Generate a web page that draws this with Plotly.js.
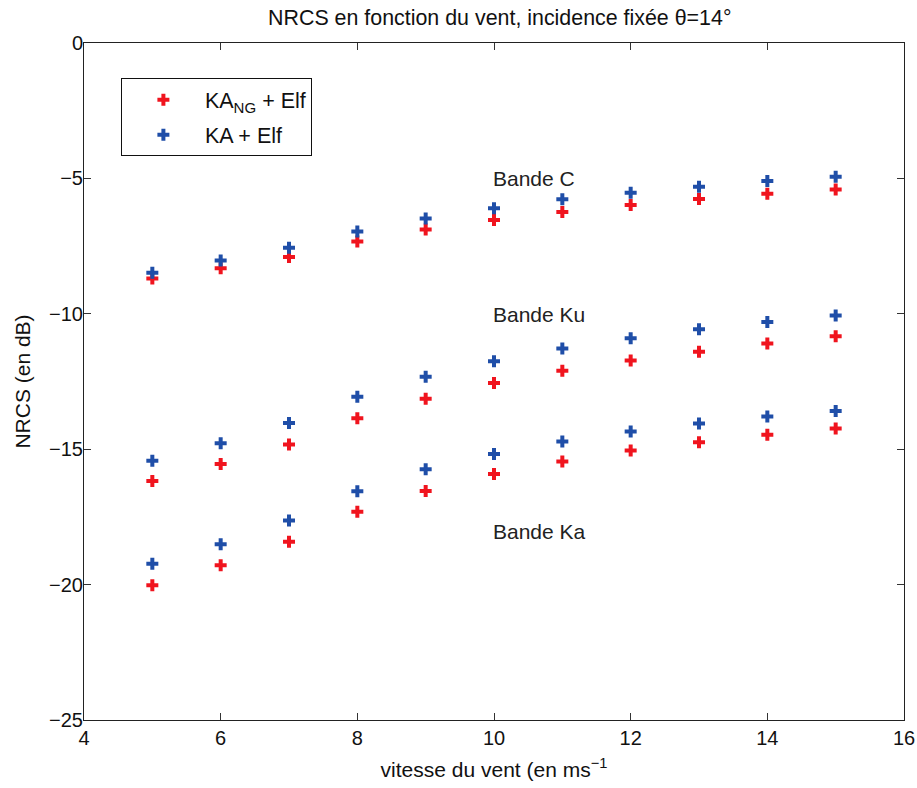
<!DOCTYPE html>
<html><head><meta charset="utf-8">
<script src="https://cdn.plot.ly/plotly-3.0.1.min.js"></script>
<style>body{margin:0;background:#fff}</style>
</head><body>
<div id="chart" style="width:917px;height:788px"></div>
<script>
var wind = [5,6,7,8,9,10,11,12,13,14,15];
// Bande C
var cNG = [-8.70,-8.32,-7.90,-7.33,-6.89,-6.54,-6.24,-5.98,-5.76,-5.57,-5.41];
var cKA = [-8.48,-8.03,-7.56,-6.96,-6.48,-6.10,-5.77,-5.53,-5.31,-5.10,-4.94];
// Bande Ku
var kuNG = [-16.17,-15.55,-14.83,-13.86,-13.14,-12.56,-12.10,-11.72,-11.40,-11.10,-10.83];
var kuKA = [-15.43,-14.78,-14.03,-13.06,-12.32,-11.75,-11.28,-10.90,-10.57,-10.30,-10.06];
// Bande Ka
var kaNG = [-20.02,-19.29,-18.42,-17.31,-16.54,-15.92,-15.45,-15.05,-14.74,-14.47,-14.24];
var kaKA = [-19.23,-18.51,-17.63,-16.55,-15.74,-15.18,-14.72,-14.35,-14.05,-13.79,-13.59];
var bandLabels = ["Bande C","Bande Ku","Bande Ka"];
var bandLabelX = [9.95,9.95,9.95];
var bandLabelY = [-5.0,-10.02,-18.03];
var xTicks = [4,6,8,10,12,14,16];
var yTicks = [-25,-20,-15,-10,-5,0];

var FF = "Liberation Sans, Arial, sans-serif";
var red = "#f0141e", blue = "#1f4ea8";
function mk(c){return {symbol:"cross",size:10,color:c,line:{width:0}};}
var allX = wind.concat(wind, wind);
var traces = [
  {x:allX, y:cNG.concat(kuNG, kaNG), mode:"markers", type:"scatter", name:"KA<sub>NG</sub> + Elf", legendgroup:"a", marker:mk(red)},
  {x:allX, y:cKA.concat(kuKA, kaKA), mode:"markers", type:"scatter", name:"KA + Elf", legendgroup:"b", marker:mk(blue)}
];
var ann = bandLabels.map(function(t,i){
  return {x:bandLabelX[i], y:bandLabelY[i], xref:"x", yref:"y", text:t, showarrow:false, xanchor:"left",
    font:{family:FF, size:21, color:"#222"}};
});
var axBase = {showgrid:false, zeroline:false, ticks:"inside", ticklen:7, tickcolor:"#333",
  showline:true, linecolor:"#222", linewidth:1, mirror:"ticks",
  tickfont:{family:FF, size:20, color:"#111"}};
var layout = {
  width:917, height:788,
  margin:{l:84, r:13, t:43, b:68},
  paper_bgcolor:"#fff", plot_bgcolor:"#fff",
  font:{family:FF, color:"#111"},
  title:{text:"NRCS en fonction du vent, incidence fixée θ=14°", xref:"container", x:0.545, xanchor:"center", yref:"container", y:0.978, yanchor:"middle",
    font:{family:FF, size:21.4, color:"#111"}},
  xaxis:Object.assign({}, axBase, {range:[4,16], tickvals:xTicks, ticktext:xTicks.map(String),
    title:{text:"vitesse du vent (en ms<sup>−1</sup>", standoff:14, font:{family:FF, size:21, color:"#111"}}}),
  yaxis:Object.assign({}, axBase, {range:[-25,0], tickvals:yTicks, ticklabelstandoff:-4, ticktext:yTicks.map(function(v){return v<0?"−"+(-v):String(v);}),
    title:{text:"NRCS (en dB)", standoff:12, font:{family:FF, size:21, color:"#111"}}}),
  showlegend:true,
  legend:{x:0.045, y:0.948, xanchor:"left", yanchor:"top", bgcolor:"#fff", bordercolor:"#111", borderwidth:1,
    font:{family:FF, size:21.5, color:"#111"}, itemwidth:73, tracegroupgap:4},
  annotations:ann
};
Plotly.newPlot("chart", traces, layout, {displayModeBar:false, staticPlot:true});
</script>
</body></html>
